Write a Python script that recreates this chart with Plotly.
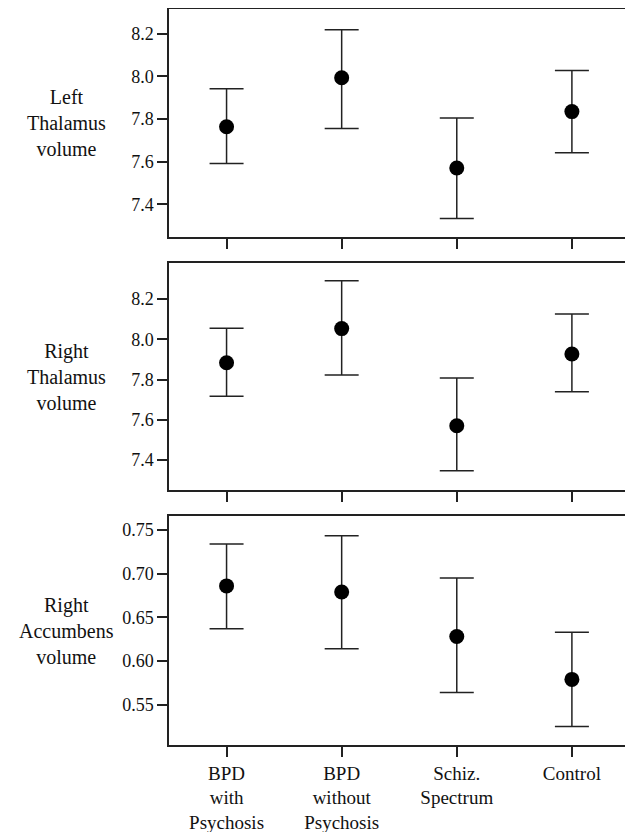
import plotly.graph_objects as go

categories = ["BPD<br>with<br>Psychosis", "BPD<br>without<br>Psychosis", "Schiz.<br>Spectrum", "Control"]

left_thal_mean = [7.764, 7.994, 7.570, 7.835]
left_thal_upper = [7.942, 8.220, 7.805, 8.028]
left_thal_lower = [7.591, 7.756, 7.333, 7.642]

right_thal_mean = [7.883, 8.053, 7.570, 7.927]
right_thal_upper = [8.055, 8.291, 7.808, 8.126]
right_thal_lower = [7.717, 7.823, 7.347, 7.739]

right_acc_mean = [0.686, 0.679, 0.628, 0.579]
right_acc_upper = [0.734, 0.7435, 0.695, 0.633]
right_acc_lower = [0.637, 0.614, 0.564, 0.525]

panel_titles = ["Left<br>Thalamus<br>volume", "Right<br>Thalamus<br>volume", "Right<br>Accumbens<br>volume"]
thal_ticks = [7.4, 7.6, 7.8, 8.0, 8.2]
acc_ticks = [0.55, 0.60, 0.65, 0.70, 0.75]

FONT = "Liberation Serif, Times New Roman, serif"
LINE = "#222222"
W, H = 633, 832
OFF = 8  # page body margin


def xd(a, b):
    return [(a - OFF) / W, (b - OFF) / W]


def yd(top, bottom):
    return [1 - (bottom - OFF) / H, 1 - (top - OFF) / H]


panels = [
    (left_thal_mean, left_thal_upper, left_thal_lower, [7.246, 8.317], thal_ticks, "{:.1f}", yd(9, 237)),
    (right_thal_mean, right_thal_upper, right_thal_lower, [7.251, 8.379], thal_ticks, "{:.1f}", yd(263, 490)),
    (right_acc_mean, right_acc_upper, right_acc_lower, [0.5039, 0.766], acc_ticks, "{:.2f}", yd(516, 745)),
]

fig = go.Figure()
x_idx = list(range(len(categories)))
for i, (m, up, lo, yr, ticks, fmt, dom) in enumerate(panels):
    n = i + 1
    xa = "x" if n == 1 else f"x{n}"
    ya = "y" if n == 1 else f"y{n}"
    fig.add_trace(go.Scatter(
        x=x_idx, y=m, mode="markers", xaxis=xa, yaxis=ya, showlegend=False,
        marker=dict(color="black", size=15),
        error_y=dict(type="data", symmetric=False,
                     array=[u - v for u, v in zip(up, m)],
                     arrayminus=[v - l for v, l in zip(m, lo)],
                     color=LINE, thickness=1.5, width=17),
    ))
    xkey = "xaxis" if n == 1 else f"xaxis{n}"
    ykey = "yaxis" if n == 1 else f"yaxis{n}"
    fig.update_layout({
        xkey: dict(domain=xd(169, 626), anchor=ya, range=[-0.5, 3.47],
                   tickmode="array", tickvals=x_idx,
                   ticktext=categories if n == 3 else [""] * 4,
                   showticklabels=(n == 3),
                   ticks="outside", ticklen=10, tickwidth=2, tickcolor=LINE,
                   showline=True, linecolor=LINE, linewidth=1.5, mirror=True,
                   showgrid=False, zeroline=False,
                   tickfont=dict(family=FONT, size=19, color="#111")),
        ykey: dict(domain=dom, anchor=xa, range=yr,
                   tickmode="array", tickvals=ticks, ticktext=[fmt.format(t) for t in ticks],
                   ticks="outside", ticklen=10, tickwidth=1.5, tickcolor=LINE,
                   showline=True, linecolor=LINE, linewidth=1.5, mirror=True,
                   showgrid=False, zeroline=False,
                   tickfont=dict(family=FONT, size=18, color="#111")),
    })
    fig.add_annotation(text=panel_titles[i], xref="paper", yref="paper",
                       x=(66 - OFF) / W, y=(dom[0] + dom[1]) / 2, showarrow=False,
                       xanchor="center", yanchor="middle",
                       font=dict(family=FONT, size=20, color="#111"))

fig.update_layout(width=W, height=H, margin=dict(l=0, r=0, t=0, b=0),
                  paper_bgcolor="white", plot_bgcolor="white")
fig.write_html("out.html")
